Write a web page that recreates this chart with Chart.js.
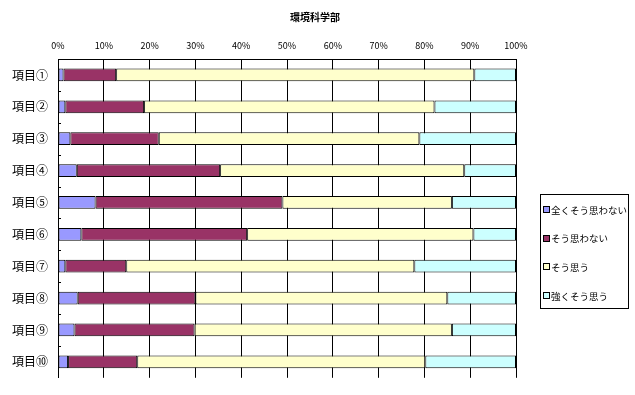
<!DOCTYPE html>
<html>
<head>
<meta charset="utf-8">
<script src="https://cdn.jsdelivr.net/npm/chart.js@4.4.1/dist/chart.umd.min.js"></script>
<style>
  body { margin: 0; background: #fff; }
</style>
</head>
<body>
<canvas id="myChart" width="635" height="395"></canvas>
<script>
const items = ['項目①', '項目②', '項目③', '項目④', '項目⑤', '項目⑥', '項目⑦', '項目⑧', '項目⑨', '項目⑩']
const notAtAll = [1.2, 1.6, 2.7, 4.1, 8.2, 5.1, 1.6, 4.3, 3.6, 2.2]
const disagree = [11.5, 17.2, 19.3, 31.3, 40.8, 36.2, 13.3, 25.7, 26.2, 15.1]
const agree = [78.2, 63.4, 56.9, 53.3, 37.0, 49.4, 62.9, 55.0, 56.2, 62.9]
const stronglyAgree = [9.1, 17.8, 21.1, 11.3, 14.0, 9.3, 22.2, 15.0, 14.0, 19.8]
const seriesNames = ['全くそう思わない', 'そう思わない', 'そう思う', '強くそう思う']
const seriesColors = ['#9999FF', '#993366', '#FFFFCC', '#CCFFFF']
const chartTitle = '環境科学部'

const fontName = '"Noto Sans CJK JP", "Noto Sans", sans-serif'

// title, small inward ticks on the y axis and the boxed legend, placed like the original
const extras = {
    id: 'extras',
    afterDraw(chart) {
        const c = chart.ctx
        c.save()
        c.fillStyle = '#000'
        c.font = 'bold 10px ' + fontName
        c.textAlign = 'center'
        c.textBaseline = 'middle'
        c.fillText(chartTitle, 315, 17)

        const yScale = chart.scales.y
        const left = chart.chartArea.left
        c.strokeStyle = '#000'
        c.lineWidth = 1
        for (let i = 0; i < items.length - 1; i++) {
            const y = Math.round((yScale.getPixelForValue(i) + yScale.getPixelForValue(i + 1)) / 2) + 0.5
            c.beginPath()
            c.moveTo(left, y)
            c.lineTo(left + 3, y)
            c.stroke()
        }

        c.textAlign = 'left'
        c.strokeRect(540.5, 194.5, 88, 114)
        c.font = '9.5px ' + fontName
        chart.data.datasets.forEach((ds, i) => {
            const y = 210 + i * 28.7
            c.fillStyle = ds.backgroundColor
            c.fillRect(543.5, Math.round(y) - 3.5, 6, 6)
            c.strokeRect(543.5, Math.round(y) - 3.5, 6, 6)
            c.fillStyle = '#000'
            c.fillText(ds.label, 551, y)
        })
        c.restore()
    }
}

const ctx = document.getElementById('myChart')
const datasets = [notAtAll, disagree, agree, stronglyAgree].map((vals, i) => ({
    label: seriesNames[i],
    data: vals,
    backgroundColor: seriesColors[i],
    borderColor: '#000',
    borderWidth: 1,
    borderSkipped: false,
    categoryPercentage: 0.5,
    barPercentage: 0.8
}))

const myChart = new Chart(ctx, {
    type: 'bar',
    data: {
        labels: items,
        datasets: datasets
    },
    options: {
        responsive: false,
        animation: false,
        indexAxis: 'y',
        layout: {
            padding: { left: 0, right: 119, top: 24, bottom: 10 }
        },
        plugins: {
            legend: { display: false },
            tooltip: { enabled: false },
            title: { display: false }
        },
        scales: {
            x: {
                position: 'top',
                stacked: true,
                min: 0,
                max: 100,
                ticks: {
                    stepSize: 10,
                    color: '#000',
                    font: { family: fontName, size: 9 },
                    padding: 8,
                    callback: v => v + '%'
                },
                grid: {
                    color: '#000',
                    drawTicks: false
                },
                border: { display: true, color: '#000' },
                afterFit: s => { s.height = 35 }
            },
            y: {
                stacked: true,
                ticks: {
                    color: '#000',
                    font: { family: fontName, size: 12 },
                    padding: 10
                },
                grid: { display: false, drawTicks: false },
                border: { display: true, color: '#000' },
                afterFit: s => { s.width = 58 }
            }
        }
    },
    plugins: [extras]
})
</script>
</body>
</html>
